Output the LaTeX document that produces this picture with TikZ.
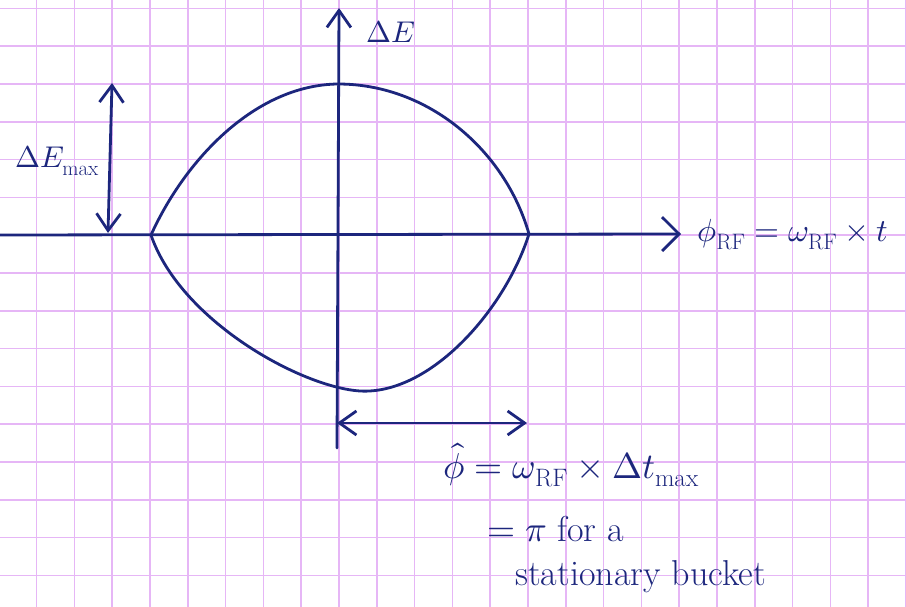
\documentclass[tikz,border=0pt]{standalone}
\usepackage{unicode-math}
\setmathfont{Latin Modern Math}
\usetikzlibrary{arrows.meta}
\definecolor{ink}{RGB}{28,38,125}
\definecolor{gridc}{RGB}{230,182,246}
\tikzset{
  barbbig/.tip={Straight Barb[length=17pt,width=34pt]},
  barbsmall/.tip={Straight Barb[length=17pt,width=24pt]}
}
\begin{document}
\begin{tikzpicture}[x=1pt,y=-1pt,
  pen/.style={ink, line width=2.8pt, line cap=round, line join=round},
  gridline/.style={gridc, line width=1.6pt},
  lbl/.style={ink, inner sep=0pt, font=\fontsize{30}{36}\selectfont},
  lblbig/.style={ink, inner sep=0pt, font=\fontsize{36}{42}\selectfont}]
\useasboundingbox (0,0) rectangle (906,607);
\fill[white] (0,0) rectangle (906,607);
% graph paper
\foreach \i in {1,...,24} \draw[gridline] ({-1.2+37.8*\i},0) -- ({-1.2+37.8*\i},607);
\foreach \j in {0,...,15} \draw[gridline] (0,{8.4+37.8*\j}) -- (906,{8.4+37.8*\j});
% axes
\coordinate (hL) at (0,235);
\coordinate (hR) at (681,234);
\coordinate (vT) at (339,8);
\coordinate (vB) at (337,448);
\draw[pen, -{barbbig}] (hL) -- (hR);
\draw[pen, -{barbsmall}] (vB) -- (vT);
% bucket
\coordinate (bL) at (151,235);
\coordinate (bT) at (338,84);
\coordinate (bR) at (529,234);
\coordinate (bB) at (360,391);
\draw[pen] (bL) .. controls (185,160) and (255,85) .. (bT)
  .. controls (428,84) and (505,150) .. (bR)
  .. controls (505,310) and (430,395) .. (bB)
  .. controls (300,387) and (180,320) .. (bL);
% dimension arrows
\coordinate (eT) at (112,83);
\coordinate (eB) at (108,233);
\draw[pen, {barbsmall}-{barbsmall}] (eT) -- (eB);
\coordinate (pL) at (337,423);
\coordinate (pR) at (527,423);
\draw[pen, {barbsmall}-{barbsmall}] (pL) -- (pR);
% labels
\node[lbl, anchor=base west] (lE) at (366,43) {$\Delta E$};
\node[lbl, anchor=base west] (lEmax) at (15,168) {$\Delta E_{\mathrm{max}}$};
\node[lbl, font=\fontsize{32}{38}\selectfont, anchor=base west] (lphi) at (697,242) {$\phi_{\mathrm{RF}} = \omega_{\mathrm{RF}}\times t$};
\node[lblbig, anchor=base west] (lhat) at (443,478) {$\hat{\phi} = \omega_{\mathrm{RF}}\times \Delta t_{\mathrm{max}}$};
\node[lblbig, anchor=base west] (lpi) at (487,541) {$=\pi$ for a};
\node[lblbig, anchor=base west] (lst) at (515,585) {stationary bucket};
\end{tikzpicture}
\end{document}
